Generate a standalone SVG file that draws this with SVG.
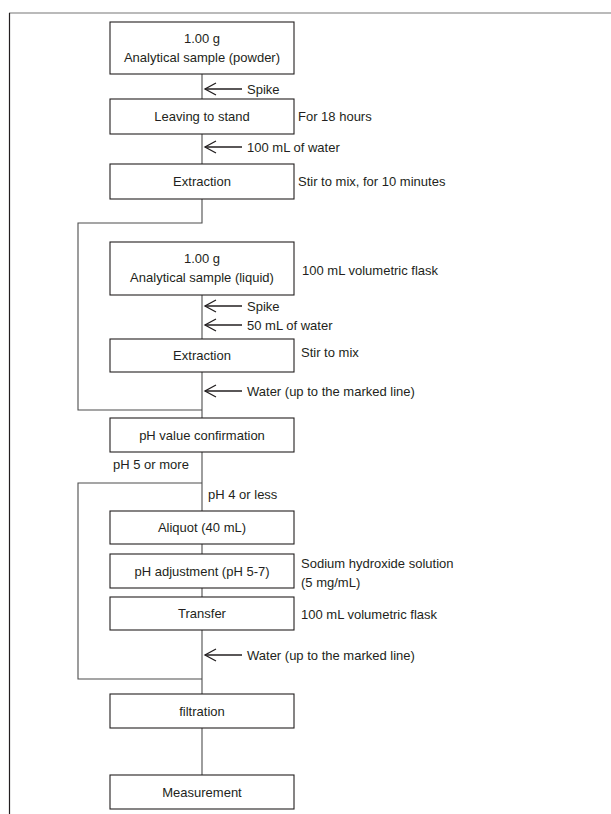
<svg xmlns="http://www.w3.org/2000/svg" width="611" height="814" viewBox="0 0 611 814">
<style>
.box{fill:#fff;stroke:#231f20;stroke-width:1.1}
.ln{fill:none;stroke:#4d4d4d;stroke-width:1.1}
.ar{fill:none;stroke:#231f20;stroke-width:1.3}
text{font-family:"Liberation Sans",Arial,sans-serif;font-size:13px;fill:#231f20}
.c{text-anchor:middle}
</style>
<defs>
<marker id="ah" markerWidth="14" markerHeight="14" refX="12" refY="7" orient="auto" markerUnits="userSpaceOnUse">
<path d="M1,1 L12,7 L1,13" fill="none" stroke="#231f20" stroke-width="1.3"/>
</marker>
</defs>
<g id="frame">
<line x1="9" y1="13" x2="611" y2="13" stroke="#777" stroke-width="1.2"/>
<line x1="9.5" y1="13" x2="9.5" y2="814" stroke="#231f20" stroke-width="1.2"/>
</g>
<g id="connectors">
<path class="ln" d="M202,74 V164"/>
<path class="ln" d="M202,199 V223 H78 V410 H202"/>
<path class="ln" d="M202,295 V339"/>
<path class="ln" d="M202,372 V418"/>
<path class="ln" d="M202,452 V511"/>
<path class="ln" d="M202,483 H78 V679 H202"/>
<path class="ln" d="M202,544 V554"/>
<path class="ln" d="M202,588 V597"/>
<path class="ln" d="M202,630 V694"/>
<path class="ln" d="M202,728 V775"/>
<line class="ar" x1="242" y1="89" x2="205" y2="89" marker-end="url(#ah)"/>
<line class="ar" x1="242" y1="147" x2="205" y2="147" marker-end="url(#ah)"/>
<line class="ar" x1="242" y1="306" x2="205" y2="306" marker-end="url(#ah)"/>
<line class="ar" x1="242" y1="325" x2="205" y2="325" marker-end="url(#ah)"/>
<line class="ar" x1="242" y1="391" x2="205" y2="391" marker-end="url(#ah)"/>
<line class="ar" x1="242" y1="655" x2="205" y2="655" marker-end="url(#ah)"/>
</g>
<g id="n1"><rect class="box" x="110" y="22" width="184" height="52"/><text class="c" x="202" y="43">1.00 g</text><text class="c" x="202" y="62">Analytical sample (powder)</text></g>
<g id="l1"><text x="247" y="93.5">Spike</text></g>
<g id="n2"><rect class="box" x="110" y="99" width="184" height="35"/><text class="c" x="202" y="121">Leaving to stand</text><text x="298" y="121">For 18 hours</text></g>
<g id="l2"><text x="247" y="151.5">100 mL of water</text></g>
<g id="n3"><rect class="box" x="110" y="164" width="184" height="35"/><text class="c" x="202" y="186">Extraction</text><text x="298" y="186">Stir to mix, for 10 minutes</text></g>
<g id="n4"><rect class="box" x="110" y="242" width="184" height="53"/><text class="c" x="202" y="263">1.00 g</text><text class="c" x="202" y="282">Analytical sample (liquid)</text><text x="302" y="275">100 mL volumetric flask</text></g>
<g id="l3"><text x="247" y="310.5">Spike</text><text x="247" y="329.5">50 mL of water</text></g>
<g id="n5"><rect class="box" x="110" y="339" width="184" height="33"/><text class="c" x="202" y="360">Extraction</text><text x="301" y="357">Stir to mix</text></g>
<g id="l4"><text x="247" y="395.5">Water (up to the marked line)</text></g>
<g id="n6"><rect class="box" x="110" y="418" width="184" height="34"/><text class="c" x="202" y="440">pH value confirmation</text></g>
<g id="l5"><text x="113" y="469">pH 5 or more</text><text x="208" y="499">pH 4 or less</text></g>
<g id="n7"><rect class="box" x="110" y="511" width="184" height="33"/><text class="c" x="202" y="532">Aliquot (40 mL)</text></g>
<g id="n8"><rect class="box" x="110" y="554" width="184" height="34"/><text class="c" x="202" y="576">pH adjustment (pH 5-7)</text><text x="301" y="568">Sodium hydroxide solution</text><text x="301" y="587">(5 mg/mL)</text></g>
<g id="n9"><rect class="box" x="110" y="597" width="184" height="33"/><text class="c" x="202" y="618">Transfer</text><text x="301" y="619">100 mL volumetric flask</text></g>
<g id="l6"><text x="247" y="659.5">Water (up to the marked line)</text></g>
<g id="n10"><rect class="box" x="110" y="694" width="184" height="34"/><text class="c" x="202" y="716">filtration</text></g>
<g id="n11"><rect class="box" x="110" y="775" width="184" height="34"/><text class="c" x="202" y="797">Measurement</text></g>
</svg>
